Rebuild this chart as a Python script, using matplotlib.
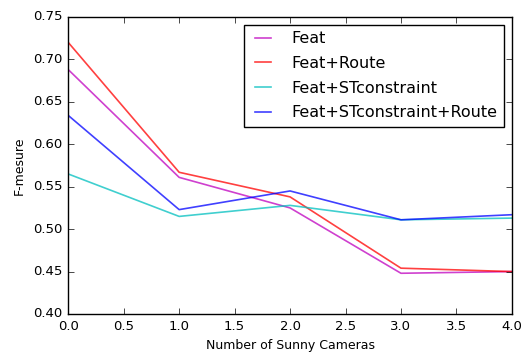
import matplotlib
matplotlib.use('Agg')
import matplotlib.pyplot as plt

plt.style.use('classic')

cameras = [0, 1, 2, 3, 4]
feat = [0.688, 0.561, 0.525, 0.448, 0.450]
feat_route = [0.720, 0.567, 0.538, 0.454, 0.450]
feat_st = [0.565, 0.515, 0.528, 0.511, 0.513]
feat_st_route = [0.634, 0.523, 0.545, 0.511, 0.517]

series = [
    ('Feat', feat, 'm'),
    ('Feat+Route', feat_route, 'r'),
    ('Feat+STconstraint', feat_st, 'c'),
    ('Feat+STconstraint+Route', feat_st_route, 'b'),
]

fig = plt.figure(figsize=(5.25, 3.54), dpi=100, facecolor='white')
ax = fig.add_axes([0.13, 0.113, 0.845, 0.839])

for name, vals, col in series:
    ax.plot(cameras, vals, color=col, alpha=0.75, linewidth=1.2, label=name)

ax.set_xlim(0, 4)
ax.set_ylim(0.40, 0.75)
ax.set_xticks([0.0, 0.5, 1.0, 1.5, 2.0, 2.5, 3.0, 3.5, 4.0])
ax.set_yticks([0.40, 0.45, 0.50, 0.55, 0.60, 0.65, 0.70, 0.75])
ax.tick_params(labelsize=9.5)
ax.set_xlabel('Number of Sunny Cameras', fontsize=9)
ax.set_ylabel('F-mesure', fontsize=9)
ax.legend(loc='upper right', fontsize=11.5, handlelength=1.6,
          handletextpad=1.0, labelspacing=0.6, borderaxespad=0.5)

fig.savefig('out.png', dpi=100, facecolor='white')
